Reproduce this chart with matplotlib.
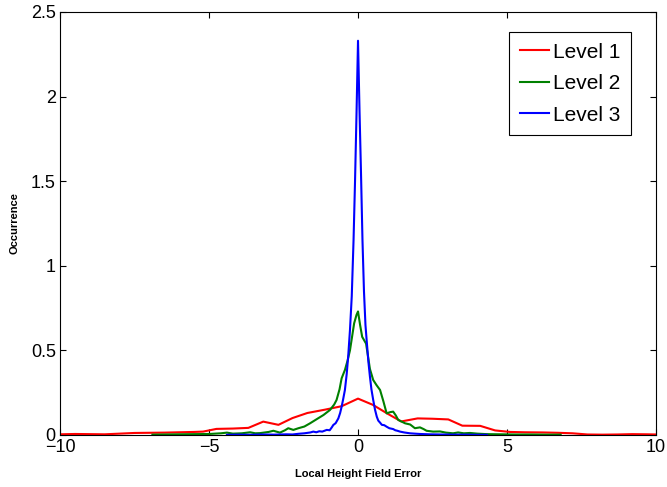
import numpy as np
import matplotlib
matplotlib.use("Agg")
import matplotlib.pyplot as plt

plt.rcParams['font.family'] = ['Liberation Sans', 'DejaVu Sans']

# Level 1 (red)
x1 = [-10, -9.5, -9, -8.5, -8, -7.5, -7, -6.5, -6, -5.5, -5.2, -4.75, -4.2, -3.68,
      -3.18, -2.67, -2.2, -1.7, -1.1, -0.55, 0.0, 0.5, 1.0, 1.45, 2.0, 2.5, 3.03,
      3.5, 4.1, 4.6, 5.1, 5.6, 6.2, 6.7, 7.2, 7.7, 8.2, 8.7, 9.2, 9.7, 10]
y1 = [0.004, 0.006, 0.005, 0.004, 0.008, 0.012, 0.013, 0.014, 0.016, 0.018, 0.020,
      0.036, 0.038, 0.042, 0.079, 0.060, 0.100, 0.130, 0.150, 0.170, 0.215, 0.178,
      0.125, 0.080, 0.098, 0.096, 0.092, 0.055, 0.054, 0.027, 0.018, 0.016, 0.015,
      0.013, 0.010, 0.003, 0.002, 0.003, 0.005, 0.004, 0.003]

# Level 2 (green)
x2 = [-6.9, -6.0, -5.5, -5.0, -4.6, -4.4, -4.2, -3.9, -3.62, -3.45, -3.29, -3.0,
      -2.84, -2.62, -2.45, -2.34, -2.17, -2.0, -1.8, -1.61, -1.4, -1.16, -0.94,
      -0.8, -0.72, -0.62, -0.55, -0.44, -0.35, -0.27, -0.2, -0.13, -0.05, 0.0,
      0.07, 0.14, 0.27, 0.34, 0.40, 0.51, 0.62, 0.74, 0.85, 0.96, 1.08, 1.18,
      1.27, 1.35, 1.58, 1.75, 1.91, 2.08, 2.2, 2.3, 2.52, 2.75, 2.95, 3.19, 3.36,
      3.55, 3.76, 4.0, 4.32, 4.8, 5.3, 5.8, 6.3, 6.8]
y2 = [0.002, 0.004, 0.005, 0.006, 0.010, 0.014, 0.008, 0.010, 0.016, 0.010, 0.011,
      0.018, 0.025, 0.014, 0.028, 0.040, 0.030, 0.040, 0.050, 0.069, 0.092, 0.118,
      0.148, 0.180, 0.207, 0.270, 0.335, 0.384, 0.440, 0.500, 0.580, 0.660, 0.710,
      0.730, 0.650, 0.580, 0.540, 0.460, 0.390, 0.325, 0.295, 0.266, 0.200, 0.128,
      0.135, 0.138, 0.115, 0.089, 0.069, 0.062, 0.040, 0.045, 0.035, 0.025, 0.020,
      0.021, 0.014, 0.010, 0.015, 0.010, 0.012, 0.008, 0.005, 0.004, 0.003, 0.003,
      0.002, 0.002]

# Level 3 (blue)
x3 = [-4.4, -4.0, -3.6, -3.2, -2.8, -2.4, -2.2, -2.0, -1.8, -1.6, -1.5, -1.4, -1.3,
      -1.2, -1.05, -0.95, -0.88, -0.83, -0.75, -0.66, -0.6, -0.55, -0.5, -0.44,
      -0.38, -0.33, -0.27, -0.21, -0.15, -0.1, -0.05, 0.0, 0.05, 0.1, 0.15, 0.2,
      0.25, 0.29, 0.35, 0.40, 0.45, 0.51, 0.57, 0.63, 0.68, 0.74, 0.8, 0.88, 0.96,
      1.05, 1.18, 1.25, 1.32, 1.41, 1.55, 1.74, 1.9, 2.08, 2.4, 2.8, 3.2, 3.6,
      4.0, 4.33]
y3 = [0.001, 0.002, 0.001, 0.003, 0.002, 0.004, 0.003, 0.007, 0.010, 0.015, 0.020,
      0.016, 0.022, 0.020, 0.030, 0.028, 0.045, 0.059, 0.070, 0.098, 0.130, 0.167,
      0.210, 0.266, 0.360, 0.463, 0.620, 0.820, 1.150, 1.500, 1.900, 2.330, 1.920,
      1.550, 1.150, 0.850, 0.650, 0.560, 0.430, 0.345, 0.270, 0.207, 0.150, 0.108,
      0.085, 0.073, 0.060, 0.058, 0.049, 0.040, 0.035, 0.028, 0.025, 0.020, 0.015,
      0.010, 0.008, 0.006, 0.004, 0.003, 0.002, 0.002, 0.001, 0.001]

fig = plt.figure(figsize=(6.67, 4.87), dpi=100)
ax = fig.add_axes([0.09, 0.1068, 0.8935, 0.8686])

ax.plot(x1, y1, color='#ff0000', lw=1.5, label='Level 1')
ax.plot(x2, y2, color='#008000', lw=1.5, label='Level 2')
ax.plot(x3, y3, color='#0000ff', lw=1.5, label='Level 3')

ax.set_xlim(-10, 10)
ax.set_ylim(0, 2.5)
ax.set_xticks([-10, -5, 0, 5, 10])
ax.set_yticks([0, 0.5, 1, 1.5, 2, 2.5])
ax.set_xticklabels(['\u221210', '\u22125', '0', '5', '10'])
ax.set_yticklabels(['0', '0.5', '1', '1.5', '2', '2.5'])
ax.tick_params(direction='in', top=True, right=True, length=4, labelsize=13, pad=3)
for s in ax.spines.values():
    s.set_linewidth(0.8)

ax.set_xlabel('Local Height Field Error', fontsize=8, fontweight='bold', labelpad=9)
ax.set_ylabel('Occurrence', fontsize=8, fontweight='bold', labelpad=8)

leg = ax.legend(loc='upper right', fontsize=15, frameon=True, fancybox=False,
                edgecolor='black', framealpha=1, handlelength=1.4,
                handletextpad=0.2, labelspacing=0.6, borderpad=0.5,
                borderaxespad=0, bbox_to_anchor=(0.9575, 0.952))
leg.get_frame().set_linewidth(0.8)

fig.savefig('out.png', dpi=100)
